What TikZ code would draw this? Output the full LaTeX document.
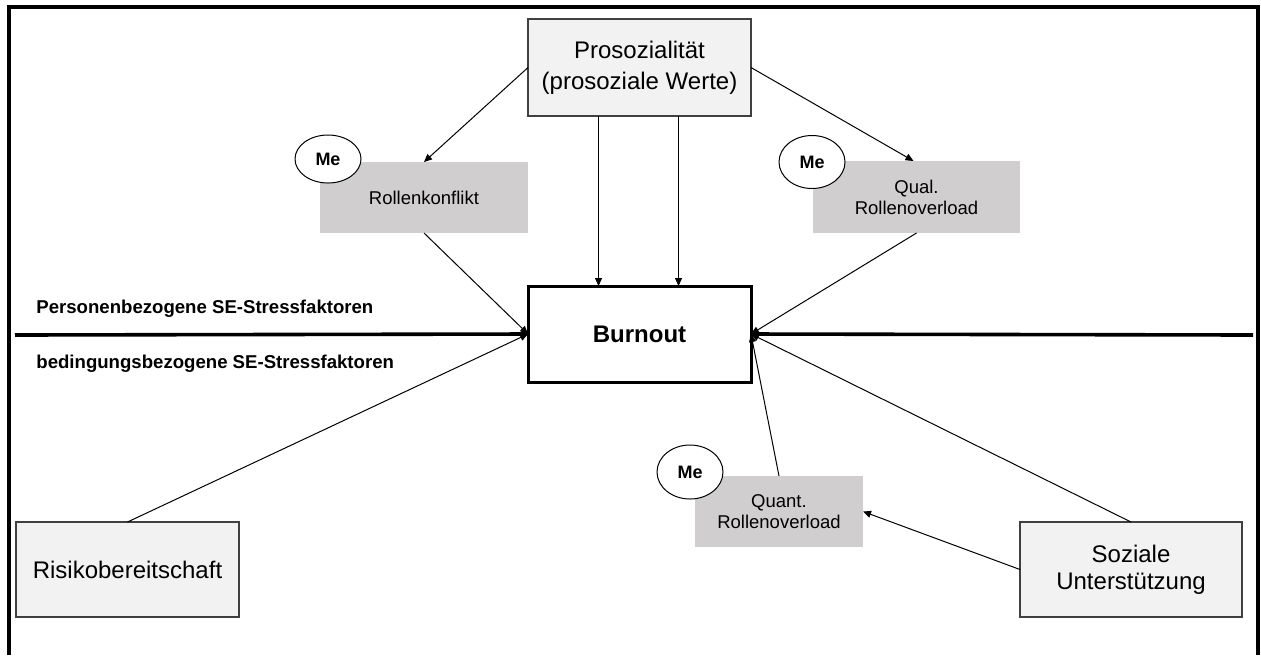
\documentclass[tikz,border=0pt]{standalone}
\usepackage{fontspec}
\setmainfont{Liberation Sans}
\usetikzlibrary{shapes.geometric,arrows.meta,calc}
\definecolor{boxgray}{HTML}{F2F2F2}
\definecolor{megray}{HTML}{D0CECE}
\definecolor{edgegray}{HTML}{404040}

\begin{document}
\begin{tikzpicture}[x=0.5pt,y=-0.5pt,
    factor/.style={draw=edgegray, line width=0.7pt, fill=boxgray, inner sep=0pt, outer sep=0pt, align=center},
    stressor/.style={fill=megray, inner sep=0pt, outer sep=0pt, align=center, font=\fontsize{9.25}{10.5}\selectfont},
    me/.style={ellipse, draw, fill=white, line width=0.5pt, minimum width=33pt, inner sep=0pt, font=\bfseries\fontsize{9}{10}\selectfont},
    arr/.style={-{Triangle[length=4pt,width=3.5pt]}, line width=0.5pt},
    divider/.style={line width=1.8pt},
    side/.style={anchor=west, inner sep=0pt, font=\bfseries\fontsize{9.3}{11}\selectfont}]

      \useasboundingbox (0,0) rectangle (1261,655);
      \draw[line width=1.6pt] (9,655) -- (9,7) -- (1258,7) -- (1258,655);

      % Faktoren
      \node[factor, minimum width=111.5pt, minimum height=48.5pt, font=\fontsize{12}{15.5}\selectfont] (pros) at (639.5,67.5) {Prosozialität\\(prosoziale Werte)};
      \node[factor, minimum width=111.5pt, minimum height=47.5pt, font=\fontsize{12}{14}\selectfont] (risiko) at (127.5,569.5) {Risikobereitschaft};
      \node[factor, minimum width=111pt, minimum height=47.5pt, font=\fontsize{12}{13.5}\selectfont] (sozial) at (1131,569.5) {Soziale\\Unterstützung};
      \node[draw, line width=1.5pt, fill=white, inner sep=0pt, outer sep=0pt, minimum width=111.5pt, minimum height=48pt,
            font=\bfseries\fontsize{12}{14}\selectfont] (burnout) at (639.5,334) {Burnout};

      % SE-Stressfaktoren
      \node[stressor, minimum width=104pt, minimum height=35.5pt] (konflikt) at (424,197.5) {Rollenkonflikt};
      \node[stressor, minimum width=103.5pt, minimum height=36pt] (qual) at (916.5,197) {Qual.\\Rollenoverload};
      \node[stressor, minimum width=84pt, minimum height=35.5pt] (quant) at (779,511.5) {Quant.\\Rollenoverload};

      \node[me, minimum height=24pt] (me1) at (328,159) {Me};
      \node[me, minimum height=26.5pt] (me2) at (812,162) {Me};
      \node[me, minimum height=27pt] (me3) at (690,472) {Me};

      % Trennlinie
      \coordinate (linksende) at (15,335);
      \coordinate (rechtsende) at (1253,335);
      \draw[divider] (linksende) -- (burnout.west);
      \draw[divider] (burnout.east) -- (rechtsende);
      \node[side] (person) at (36,309) {Personenbezogene SE-Stressfaktoren};
      \node[side] (bedingung) at (36,364) {bedingungsbezogene SE-Stressfaktoren};

      % Pfade
      \draw[arr] (pros.west) -- (konflikt.north);
      \draw[arr] (pros.east) -- ($(qual.north)+(-3,0)$);
      \draw[arr] ($(pros.south)+(-41,0)$) -- ($(burnout.north)+(-41,0)$);
      \draw[arr] ($(pros.south)+(39,0)$) -- ($(burnout.north)+(39,0)$);
      \draw[arr] (konflikt.south) -- (burnout.west);
      \draw[arr] (qual.south) -- (burnout.east);
      \draw[arr] (risiko.north) -- (burnout.west);
      \draw[arr] (sozial.north) -- (burnout.east);
      \draw[arr] (quant.north) -- (burnout.east);
      \draw[arr] (sozial.west) -- (quant.east);

    \end{tikzpicture}
\end{document}
